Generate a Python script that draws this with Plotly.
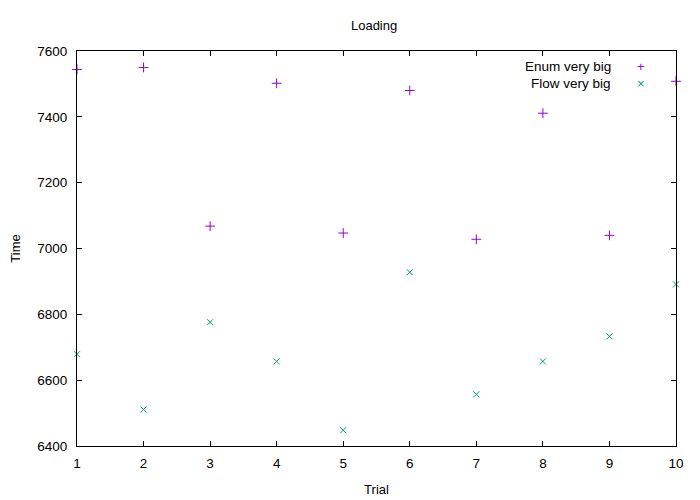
# loading times per trial, enum vs flow (very big input)
import plotly.graph_objects as go

trials = [1, 2, 3, 4, 5, 6, 7, 8, 9, 10]
enum_very_big = [7544, 7550, 7068, 7502, 7047, 7480, 7028, 7411, 7040, 7508]
flow_very_big = [6679, 6511, 6776, 6657, 6448, 6928, 6557, 6657, 6733, 6891]

ENUM_COLOR = "#9400d3"
FLOW_COLOR = "#009e73"
FONT = "Liberation Sans, Arial, sans-serif"

fig = go.Figure()

fig.add_trace(
    go.Scatter(
        x=trials,
        y=enum_very_big,
        mode="markers",
        name="Enum very big",
        marker=dict(symbol="cross-thin-open", size=7, color=ENUM_COLOR,
                    line=dict(color=ENUM_COLOR, width=1)),
        cliponaxis=False,
        showlegend=False,
    )
)
fig.add_trace(
    go.Scatter(
        x=trials,
        y=flow_very_big,
        mode="markers",
        name="Flow very big",
        marker=dict(symbol="x-thin-open", size=6, color=FLOW_COLOR,
                    line=dict(color=FLOW_COLOR, width=1)),
        cliponaxis=False,
        showlegend=False,
    )
)

# gnuplot style key: text right aligned, sample to the right
key_rows = [("Enum very big", ENUM_COLOR, "+"), ("Flow very big", FLOW_COLOR, "×")]
for i, (label, color, glyph) in enumerate(key_rows):
    y = 0.961 - i * 0.043
    fig.add_annotation(
        x=0.894, y=y, xref="paper", yref="paper", text=label, showarrow=False,
        xanchor="right", yanchor="middle", font=dict(size=13.5, color="#000000", family=FONT),
    )
    fig.add_annotation(
        x=0.941, y=y, xref="paper", yref="paper", text=glyph, showarrow=False,
        xanchor="center", yanchor="middle", font=dict(size=13, color=color, family=FONT),
    )

axis_style = dict(
    showline=True,
    linecolor="#000000",
    linewidth=1,
    mirror="ticks",
    ticks="inside",
    ticklen=5,
    tickcolor="#000000",
    showgrid=False,
    zeroline=False,
    automargin=False,
    tickfont=dict(size=13.5, color="#000000", family=FONT),
)

# the page adds an 8px body margin, so the margins are shifted to compensate
fig.update_layout(
    width=700,
    height=500,
    paper_bgcolor="#ffffff",
    plot_bgcolor="#ffffff",
    margin=dict(l=69, r=32, t=43, b=62),
    font=dict(family=FONT, size=13, color="#000000"),
    title=dict(text="Loading", x=0.523, xanchor="center", y=0.966, yanchor="middle",
               font=dict(size=13, family=FONT)),
)
fig.update_xaxes(range=[1, 10], dtick=1, ticklabelstandoff=5,
                 title=dict(text="Trial", standoff=14, font=dict(size=13, family=FONT)),
                 **axis_style)
fig.update_yaxes(range=[6400, 7600], dtick=200, ticklabelstandoff=6,
                 title=dict(text="Time", standoff=20, font=dict(size=13, family=FONT)),
                 **axis_style)

fig.write_html("out.html")
